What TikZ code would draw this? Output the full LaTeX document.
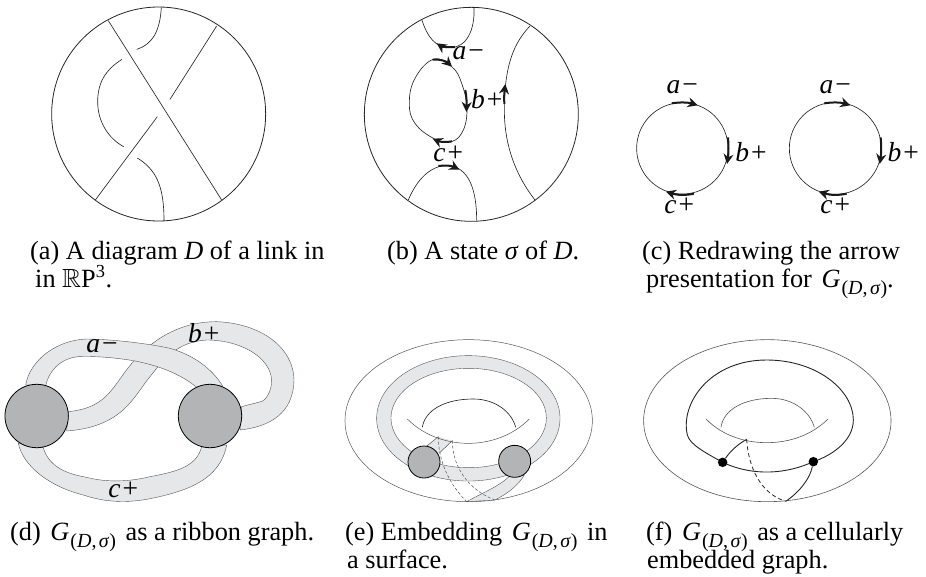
\documentclass[tikz,border=0pt]{standalone}
\usepackage{amssymb}
\usepackage{fontspec}
\setmainfont{Liberation Serif}
\usetikzlibrary{arrows.meta}
\definecolor{ribbon}{HTML}{E6E7E8}
\definecolor{disc}{HTML}{B3B4B6}
\definecolor{thinline}{HTML}{555555}
\newcommand{\Gds}{\hspace{3pt}\textit{G}\hspace{1pt}\raisebox{-0.28em}{\fontsize{20}{20}\selectfont(\textit{D},\hspace{0.12em}\textit{σ})}\hspace{3pt}}
\newcommand{\lbl}[2]{\textit{#1}\hspace{2pt}#2}
\tikzset{
  zoomed/.style={x=0.33333pt,y=-0.33333pt},
  strand/.style={line width=0.65pt,black!85},
  thin strand/.style={line width=0.5pt,thinline},
  bold arrow/.style={line width=2pt,black!90,-{Stealth[length=10pt,width=10pt]}},
  rim/.style={line width=0.8pt,black!85},
  rib/.style={fill=ribbon,draw=thinline,line width=0.4pt},
  vertex/.style={fill=disc,draw=black,line width=0.8pt},
  captiontext/.style={anchor=base west,inner sep=0pt,font=\fontsize{26.3}{28}\selectfont},
  lab/.style={anchor=center,inner sep=0pt,font=\fontsize{27.5}{28}\selectfont},
}
\begin{document}
\begin{tikzpicture}[x=1pt,y=-1pt]
\useasboundingbox (0,0) rectangle (926,576);

% (a)
\begin{scope}[shift={(20pt,0pt)},zoomed]
\draw[rim] (416,342) circle [radius=107pt];
\draw[strand] (265,62) -- (605,600);
\draw[strand] (590,78) -- (450,298);
\draw[strand] (412,350) -- (226,600);
\draw[strand] (424,22) .. controls (420,90) and (400,132) .. (350,148);
\draw[strand] (306,178) .. controls (255,210) and (233,250) .. (233,305) .. controls (233,365) and (265,415) .. (311,440);
\draw[strand] (352,474) .. controls (410,510) and (432,560) .. (432,662);
\end{scope}

% (b)
\begin{scope}[shift={(320pt,0pt)},zoomed]
\draw[rim] (454,343) circle [radius=107pt];
\draw[strand] (305,58) .. controls (322,110) and (345,143) .. (390,143) .. controls (440,143) and (465,90) .. (462,22);
\draw[strand] plot[smooth cycle,tension=0.7] coordinates {(340,178) (395,200) (425,250) (441,330) (425,400) (385,427) (340,415) (285,370) (268,310) (285,235)};
\draw[strand] (630,78) .. controls (585,125) and (553,190) .. (553,330) .. controls (553,440) and (590,530) .. (645,600);
\draw[strand] (265,600) .. controls (290,540) and (330,497) .. (380,497) .. controls (430,497) and (470,540) .. (470,662);
\draw[bold arrow] (405,141) .. controls (385,143) and (365,140) .. (350,130);
\draw[bold arrow] (338,179) .. controls (360,176) and (380,185) .. (396,200);
\draw[bold arrow] (436,270) .. controls (440,290) and (440,310) .. (439,336);
\draw[bold arrow] (396,424) .. controls (378,428) and (358,425) .. (338,416);
\draw[bold arrow] (553,312) .. controls (552,295) and (553,275) .. (556,252);
\draw[bold arrow] (355,498) .. controls (375,495) and (395,497) .. (418,509);
\node[lab] (ba) at (445,160) {\lbl{a}{−}};
\node[lab] (bb) at (500,298) {\lbl{b}{+}};
\node[lab] (bc) at (385,462) {\lbl{c}{+}};
\end{scope}

% (c)
\begin{scope}[shift={(620pt,-50pt)},zoomed]
\draw[strand] (187,295) circle [radius=45.7pt];
\draw[strand] (646,295) circle [radius=46pt];
\foreach \dx in {0,458}{
  \draw[bold arrow] (155+\dx,160) .. controls (180+\dx,156) and (205+\dx,157) .. (233+\dx,166);
  \draw[bold arrow] (324+\dx,262) .. controls (326+\dx,285) and (326+\dx,310) .. (321+\dx,342);
  \draw[bold arrow] (222+\dx,431) .. controls (195+\dx,437) and (170+\dx,435) .. (138+\dx,425);
}
\node[lab] (ca) at (187,110) {\lbl{a}{−}};
\node[lab] (cb) at (393,305) {\lbl{b}{+}};
\node[lab] (cc) at (178,467) {\lbl{c}{+}};
\node[lab] (da) at (646,110) {\lbl{a}{−}};
\node[lab] (db) at (850,305) {\lbl{b}{+}};
\node[lab] (dc) at (646,467) {\lbl{c}{+}};
\end{scope}

% (d)
\begin{scope}[shift={(0pt,-260pt)},zoomed]
\draw[rib] (205,455) .. controls (300,445) and (325,405) .. (365,350) .. controls (420,270) and (510,185) .. (650,185) .. controls (780,190) and (880,260) .. (882,360) .. controls (880,460) and (810,500) .. (720,510)
  -- (725,440) .. controls (760,430) and (775,428) .. (788,423) .. controls (805,412) and (815,385) .. (815,360) .. controls (810,290) and (720,240) .. (620,240) .. controls (530,245) and (490,300) .. (450,350) .. controls (400,410) and (370,500) .. (200,513) -- cycle;
\draw[rib] (77,375) .. controls (90,300) and (170,240) .. (260,237) .. controls (340,238) and (440,250) .. (510,265) .. controls (580,285) and (635,325) .. (668,378)
  -- (590,382) .. controls (540,340) and (470,315) .. (400,302) .. controls (340,292) and (280,288) .. (235,290) .. controls (180,295) and (145,335) .. (137,378) -- cycle;
\draw[rib] (55,550) .. controls (70,620) and (150,680) .. (250,705) .. controls (310,725) and (370,730) .. (440,718) .. controls (560,695) and (660,660) .. (680,555)
  -- (605,560) .. controls (590,620) and (530,635) .. (450,650) .. controls (390,665) and (320,668) .. (260,652) .. controls (190,640) and (145,615) .. (130,563) -- cycle;
\draw[vertex] (110,468) circle [radius=31.7pt];
\draw[vertex] (630,468) circle [radius=31.7pt];
\node[lab] (ra) at (306,258) {\lbl{a}{−}};
\node[lab] (rb) at (611,220) {\lbl{b}{+}};
\node[lab] (rc) at (370,690) {\lbl{c}{+}};
\end{scope}

% (e)
\begin{scope}[shift={(335pt,-300pt)},zoomed]
\draw[thin strand] (401,362) ellipse [x radius=123.7pt,y radius=81pt];
\draw[rib,even odd rule] (400,355) ellipse [x radius=91.7pt,y radius=62.7pt] (401,354) ellipse [x radius=77.7pt,y radius=49.7pt];
\fill[ribbon] (273,440) -- (310,410) -- (352,422) -- (312,460) -- cycle;
\draw[thin strand] (273,440) -- (310,410);
\draw[thin strand] (312,460) -- (352,422);
\draw[rib] (522,530) .. controls (490,560) and (440,580) .. (395,605) -- (480,600) .. controls (520,580) and (550,555) .. (568,525) -- cycle;
\draw[thin strand] (217,357) .. controls (270,410) and (340,430) .. (400,430) .. controls (460,430) and (530,410) .. (583,357);
\draw[strand] (262,382) .. controls (270,330) and (330,297) .. (415,297) .. controls (480,297) and (530,335) .. (542,382);
\draw[thin strand,dash pattern=on 3pt off 2pt] (310,410) .. controls (310,480) and (340,550) .. (395,605);
\draw[thin strand,dash pattern=on 3pt off 2pt] (352,422) .. controls (352,500) and (400,570) .. (480,600);
\draw[vertex] (267,486) circle [radius=16pt];
\draw[vertex] (539,484) circle [radius=16pt];
\end{scope}

% (f)
\begin{scope}[shift={(630pt,-300pt)},zoomed]
\draw[thin strand,line width=0.6pt] (412,362) ellipse [x radius=123.7pt,y radius=81pt];
\draw[strand,line width=0.9pt] (278,487) .. controls (230,460) and (180,435) .. (172,405) .. controls (150,310) and (240,180) .. (410,180) .. controls (560,180) and (670,270) .. (670,360) .. controls (670,420) and (610,465) .. (550,485) .. controls (470,522) and (370,530) .. (278,487);
\draw[thin strand,line width=0.6pt] (228,357) .. controls (280,410) and (350,428) .. (410,428) .. controls (480,428) and (545,405) .. (594,357);
\draw[thin strand,line width=0.6pt] (273,382) .. controls (280,330) and (340,295) .. (425,295) .. controls (490,295) and (540,335) .. (553,382);
\node[circle,fill=black,inner sep=0pt,minimum size=9.5pt] (v1) at (278,487) {};
\node[circle,fill=black,inner sep=0pt,minimum size=9.5pt] (v2) at (550,485) {};
\coordinate (p) at (350,418);
\coordinate (q) at (467,604);
\draw[strand,line width=0.9pt] (v1) .. controls (300,455) and (320,435) .. (p);
\draw[strand,line width=0.8pt,dash pattern=on 4pt off 3pt] (p) .. controls (355,500) and (390,580) .. (q);
\draw[strand,line width=0.9pt] (q) .. controls (510,575) and (540,535) .. (v2);
\end{scope}

% captions
\node[captiontext] (c1) at (30,259) {(a) A diagram \textit{D} of a link in};
\node[captiontext] (c1b) at (35,287) {in $\mathbb{R}$P\textsuperscript{3}.};
\node[captiontext] (c2) at (387,259) {(b) A state \textit{σ} of \textit{D}.};
\node[captiontext] (c3) at (642,259) {(c) Redrawing the arrow};
\node[captiontext] (c3b) at (646,287) {presentation for \Gds\hspace{-3pt}.};
\node[captiontext] (c4) at (10,540) {(d) \Gds{} as a ribbon graph.};
\node[captiontext] (c5) at (345,540) {(e) Embedding \Gds{} in};
\node[captiontext] (c5b) at (347,568) {a surface.};
\node[captiontext] (c6) at (646,540) {(f) \Gds{} as a cellularly};
\node[captiontext] (c6b) at (647,568) {embedded graph.};
\end{tikzpicture}
\end{document}
